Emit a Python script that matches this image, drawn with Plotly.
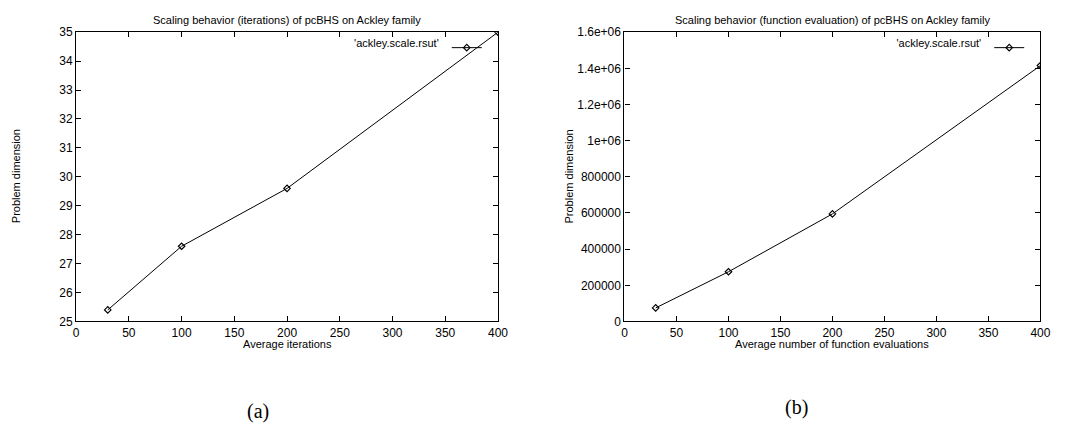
import plotly.graph_objects as go

# Data
iter_x = [30, 100, 200, 400]
iter_y = [25.4, 27.6, 29.6, 35.0]
feval_x = [30, 100, 200, 400]
feval_y = [75000, 275000, 595000, 1415000]

x_ticks = [0, 50, 100, 150, 200, 250, 300, 350, 400]
left_yticks = [25, 26, 27, 28, 29, 30, 31, 32, 33, 34, 35]
right_yticks = [0, 200000, 400000, 600000, 800000, 1000000, 1200000, 1400000, 1600000]
right_yticktext = ["0", "200000", "400000", "600000", "800000", "1e+06", "1.2e+06", "1.4e+06", "1.6e+06"]

legend_label = "'ackley.scale.rsut'"
title_left = "Scaling behavior (iterations) of pcBHS on Ackley family"
title_right = "Scaling behavior (function evaluation) of pcBHS on Ackley family"
xlabel_left = "Average iterations"
xlabel_right = "Average number of function evaluations"
ylabel = "Problem dimension"

W, H = 1088, 433
FONT = "Liberation Sans, Arial, sans-serif"

def px_x(p):
    return p / W

def px_y(p):
    return 1 - p / H

fig = go.Figure()

line_style = dict(color="black", width=1)
marker_style = dict(symbol="diamond-open", size=5, color="black", line=dict(width=1.2, color="black"))

fig.add_trace(go.Scatter(x=iter_x, y=iter_y, mode="lines+markers", line=line_style,
                         marker=marker_style, name=" ", xaxis="x", yaxis="y",
                         showlegend=True, legend="legend"))
fig.add_trace(go.Scatter(x=feval_x, y=feval_y, mode="lines+markers", line=line_style,
                         marker=marker_style, name=" ", xaxis="x2", yaxis="y2",
                         showlegend=True, legend="legend2"))

axis_common = dict(showline=True, linecolor="black", linewidth=1.3, mirror="ticks",
                   ticks="inside", ticklen=5, tickcolor="black", tickwidth=1,
                   showgrid=False, zeroline=False,
                   tickfont=dict(family=FONT, size=12, color="black"))

L = (74, 501)
R = (629, 1050)
T, B = 26, 325

fig.update_layout(
    width=W, height=H,
    margin=dict(l=0, r=0, t=0, b=0),
    paper_bgcolor="white", plot_bgcolor="white",
    xaxis=dict(domain=[px_x(L[0]), px_x(L[1])], range=[0, 400], tickvals=x_ticks,
               anchor="y", **axis_common),
    yaxis=dict(domain=[px_y(B), px_y(T)], range=[25, 35], tickvals=left_yticks,
               anchor="x", **axis_common),
    xaxis2=dict(domain=[px_x(R[0]), px_x(R[1])], range=[0, 400], tickvals=x_ticks,
                anchor="y2", **axis_common),
    yaxis2=dict(domain=[px_y(B), px_y(T)], range=[0, 1600000], tickvals=right_yticks,
                ticktext=right_yticktext, anchor="x2", **axis_common),
    legend=dict(x=px_x(496), y=px_y(42), xanchor="right", yanchor="middle",
                bgcolor="rgba(0,0,0,0)", itemwidth=30,
                title=dict(text=legend_label, side="left",
                           font=dict(family=FONT, size=11, color="black")),
                font=dict(family=FONT, size=2)),
    legend2=dict(x=px_x(1045), y=px_y(42), xanchor="right", yanchor="middle",
                 bgcolor="rgba(0,0,0,0)", itemwidth=30,
                 title=dict(text=legend_label, side="left",
                            font=dict(family=FONT, size=11, color="black")),
                 font=dict(family=FONT, size=2)),
)

ann_font = dict(family=FONT, size=11, color="black")
annotations = [
    dict(text=title_left, x=px_x((L[0] + L[1]) / 2), y=px_y(13)),
    dict(text=title_right, x=px_x((R[0] + R[1]) / 2), y=px_y(13)),
    dict(text=xlabel_left, x=px_x((L[0] + L[1]) / 2), y=px_y(348)),
    dict(text=xlabel_right, x=px_x((R[0] + R[1]) / 2), y=px_y(348)),
]
for a in annotations:
    fig.add_annotation(xref="paper", yref="paper", xanchor="center", yanchor="middle",
                       showarrow=False, font=ann_font, **a)

fig.add_annotation(text=ylabel, xref="paper", yref="paper", x=px_x(14), y=px_y(175),
                   textangle=-90, showarrow=False, font=ann_font,
                   xanchor="center", yanchor="middle")
fig.add_annotation(text=ylabel, xref="paper", yref="paper", x=px_x(573), y=px_y(175),
                   textangle=-90, showarrow=False, font=ann_font,
                   xanchor="center", yanchor="middle")

cap_font = dict(family="Liberation Serif, DejaVu Serif, serif", size=20, color="black")
fig.add_annotation(text="(a)", xref="paper", yref="paper", x=px_x(258), y=px_y(418),
                   showarrow=False, font=cap_font, xanchor="center", yanchor="middle")
fig.add_annotation(text="(b)", xref="paper", yref="paper", x=px_x(803), y=px_y(414),
                   showarrow=False, font=cap_font, xanchor="center", yanchor="middle")

fig.write_html("out.html")
